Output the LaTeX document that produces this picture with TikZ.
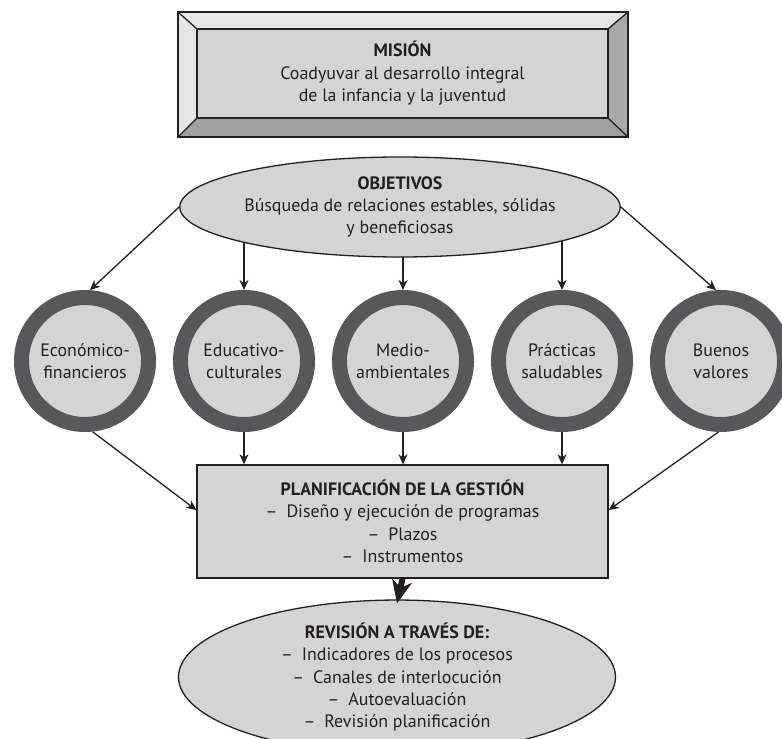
\documentclass[tikz,border=0pt]{standalone}
\usepackage{fontspec}
\setmainfont{PT Sans}
\usetikzlibrary{shapes.geometric,arrows.meta,backgrounds,calc}
\definecolor{fillg}{HTML}{D4D4D4}
\definecolor{ringg}{HTML}{58585A}
\definecolor{bevl}{HTML}{E6E6E6}
\definecolor{bevd}{HTML}{A8A8A8}
\definecolor{ink}{HTML}{231F20}
\begin{document}
\begin{tikzpicture}[x=1bp,y=-1bp,
  txt/.style={font=\fontsize{18}{22.5}\selectfont, text=ink, align=center},
  arr/.style={draw=ink, line width=1.3bp, -{Stealth[length=10bp,width=9bp,inset=3bp]}},
  boldarr/.style={draw=ink, line width=6bp, -{Stealth[length=23bp,width=20bp,inset=7bp]}},
  ring/.style={circle, draw=ringg, line width=15bp, fill=fillg, minimum size=127bp, inner sep=0pt, txt},
  oval/.style={ellipse, draw=ink, line width=1.3bp, fill=fillg, inner sep=0pt, txt},
  panel/.style={rectangle, draw=ink, line width=1.3bp, fill=fillg, inner sep=0pt, txt},
  bevel/.style={draw=ink, line width=1.3bp, line join=miter}]
\useasboundingbox (0,0) rectangle (782,739);
% mission bevel frame
\fill[bevl] (178,12) -- (628,12) -- (608,29) -- (197,29) -- cycle;
\fill[bevl] (178,12) -- (197,29) -- (197,118) -- (178,137) -- cycle;
\fill[bevd] (628,12) -- (628,137) -- (608,118) -- (608,29) -- cycle;
\fill[bevd!95!black] (178,137) -- (628,137) -- (608,118) -- (197,118) -- cycle;
\draw[bevel] (178,12) rectangle (628,137);
\draw[bevel] (178,12) -- (197,29) (628,12) -- (608,29) (178,137) -- (197,118) (628,137) -- (608,118);
\node[panel, minimum width=411bp, minimum height=89bp] (mision) at (402.5,73.5)
  {\textbf{MISIÓN}\\Coadyuvar al desarrollo integral\\de la infancia y la juventud};
% objectives
\node[oval, minimum width=437bp, minimum height=100bp] (obj) at (400,207)
  {\textbf{OBJETIVOS}\\Búsqueda de relaciones estables, sólidas\\y beneficiosas};
% circles
\node[ring] (c1) at (85,361) {Económico-\\financieros};
\node[ring] (c2) at (244,361) {Educativo-\\culturales};
\node[ring] (c3) at (403,361) {Medio-\\ambientales};
\node[ring] (c4) at (562,361) {Prácticas\\saludables};
\node[ring] (c5) at (721,361) {Buenos\\valores};
% planning
\node[panel, minimum width=411bp, minimum height=113bp] (plan) at (402.5,521.5)
  {\textbf{PLANIFICACIÓN DE LA GESTIÓN}\\–\enspace Diseño y ejecución de programas\\–\enspace Plazos\\–\enspace Instrumentos};
% revision
\node[oval, minimum width=437bp, minimum height=142bp] (rev) at (397,677)
  {\textbf{REVISIÓN A TRAVÉS DE:}\\–\enspace Indicadores de los procesos\\–\enspace Canales de interlocución\\–\enspace Autoevaluación\\–\enspace Revisión planificación};
% connectors
\begin{scope}[on background layer]
\draw[arr] (obj.west) -- (c1.86);
\draw[arr] (obj.center -| c2) -- (c2.north);
\draw[arr] (obj.center -| c3) -- (c3.north);
\draw[arr] (obj.center -| c4) -- (c4.north);
\draw[arr] (obj.east) -- (c5.94);
\draw[arr] (c1.-84) -- ($(plan.north west)!0.4!(plan.south west)$);
\draw[arr] (c2.south) -- (plan.north -| c2);
\draw[arr] (c3.south) -- (plan.north -| c3);
\draw[arr] (c4.south) -- (plan.north -| c4);
\draw[arr] (c5.-92) -- ($(plan.north east)!0.4!(plan.south east)$);
\end{scope}
\coordinate (revtop) at ($(rev.north)+(0,4)$);
\draw[boldarr] (plan.south) -- (revtop);
\end{tikzpicture}
\end{document}
